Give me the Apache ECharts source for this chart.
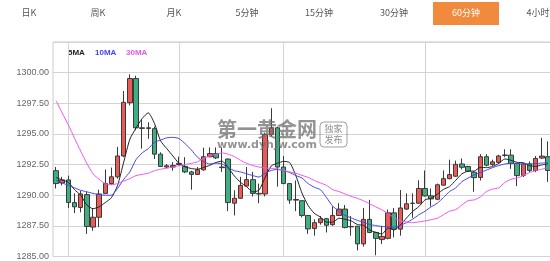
<!DOCTYPE html>
<html><head><meta charset="utf-8">
<script src="https://cdn.jsdelivr.net/npm/echarts@6/dist/echarts.min.js"></script>
<style>html,body{margin:0;padding:0;background:#fff;overflow:hidden}#c{width:551px;height:261px}</style>
</head><body><div id="c"></div>
<script>
const tabs = ['日K','周K','月K','5分钟','15分钟','30分钟','60分钟','4小时'];
const tabCenters = [29,98,174,247,319,394,466,538];
const activeTab = 6;
const legendNames = ['5MA','10MA','30MA'];
const yTicks = {min:1285, max:1302.5, step:2.5};
const dayBreaks = [2,20,37,60];

const opens = [1292.0,1291.0,1291.25,1289.4,1289.0,1290.05,1287.4,1288.2,1290.15,1290.95,
1291.5,1293.2,1297.55,1299.52,1295.5,1295.45,1295.43,1293.35,1292.3,1292.3,
1292.6,1292.35,1291.9,1291.7,1292.07,1293.14,1293.4,1292.3,1292.95,1289.35,
1289.75,1290.75,1291.27,1290.15,1290.1,1294.95,1295.5,1292.3,1290.95,1289.6,
1289.55,1288.35,1287.28,1287.76,1288.08,1287.6,1288.35,1288.87,1287.45,1287.47,
1286.03,1288.03,1286.96,1286.38,1286.48,1288.56,1287.23,1288.87,1289.35,1289.35,
1290.55,1289.95,1289.67,1290.82,1291.35,1291.55,1292.55,1292.34,1291.88,1291.45,
1293.14,1292.5,1292.68,1293.25,1293.27,1292.6,1291.62,1292.55,1292.02,1293.03,
1293.14];
const closes = [1290.95,1291.25,1289.4,1289.05,1290.1,1287.45,1288.2,1290.1,1290.95,1291.5,
1293.2,1297.58,1299.52,1295.5,1295.45,1295.5,1293.35,1292.35,1292.4,1292.42,
1292.5,1291.9,1291.7,1292.07,1293.14,1293.4,1293.05,1292.25,1289.4,1289.75,
1290.8,1291.27,1290.15,1290.1,1294.95,1295.5,1292.3,1290.95,1289.6,1289.65,
1288.35,1287.25,1287.76,1288.08,1287.55,1288.35,1288.87,1287.36,1287.42,1286.03,
1288.03,1286.96,1286.48,1286.64,1288.56,1287.23,1288.96,1289.3,1289.33,1290.55,
1289.94,1289.7,1290.85,1291.35,1291.68,1292.52,1292.28,1291.96,1291.43,1293.14,
1292.45,1292.72,1293.2,1293.28,1292.6,1291.6,1292.55,1292.02,1293.0,1293.19,
1292.02];
const lows = [1290.55,1290.8,1288.95,1288.55,1288.6,1286.85,1287.1,1287.4,1290.1,1290.85,
1291.35,1293.1,1297.33,1295.3,1293.8,1294.6,1292.95,1292.3,1292.2,1292.0,
1292.4,1291.8,1290.45,1291.65,1292.0,1293.1,1292.95,1291.9,1288.7,1288.35,
1289.7,1290.7,1289.9,1289.35,1289.9,1294.8,1290.7,1290.9,1289.3,1288.7,
1288.2,1286.85,1286.7,1287.6,1286.96,1287.5,1288.3,1287.3,1286.7,1285.5,
1285.8,1286.9,1285.1,1286.03,1286.4,1286.56,1286.7,1288.8,1288.16,1289.3,
1289.9,1289.09,1289.6,1290.8,1291.3,1291.5,1292.1,1291.9,1290.29,1291.2,
1292.35,1292.4,1292.6,1293.1,1292.15,1290.74,1291.48,1291.88,1291.88,1292.95,
1291.09];
const highs = [1292.3,1291.5,1291.6,1290.15,1290.35,1290.3,1288.95,1290.45,1292.1,1292.25,
1293.95,1298.5,1299.86,1299.75,1296.2,1295.95,1295.6,1293.5,1292.55,1292.7,
1293.15,1293.1,1292.0,1292.3,1293.88,1293.9,1293.9,1293.9,1293.0,1290.4,
1291.5,1292.3,1291.9,1290.95,1295.1,1297.1,1295.6,1293.2,1291.0,1291.2,
1289.6,1288.35,1288.03,1288.3,1288.15,1289.09,1289.35,1289.2,1288.3,1287.5,
1288.96,1289.62,1287.0,1287.5,1288.83,1288.96,1290.42,1290.15,1290.15,1291.22,
1292.02,1290.55,1290.95,1292.02,1292.9,1292.82,1293.0,1292.4,1291.95,1293.35,
1293.35,1292.9,1293.3,1293.75,1293.75,1292.6,1292.62,1292.76,1293.2,1294.68,
1294.4];
const ma5 = [1291.45,1291.25,1291.05,1290.45,1290.0,1289.2,1288.9,1289.05,1289.4,1289.8,
1290.79,1292.7,1294.57,1295.48,1296.26,1296.72,1295.86,1294.43,1293.81,1293.2,
1292.6,1292.31,1292.18,1292.12,1292.26,1292.44,1292.67,1292.78,1292.25,1291.57,
1291.05,1290.69,1290.27,1290.41,1291.45,1292.39,1292.6,1292.76,1292.66,1291.6,
1290.17,1289.16,1288.52,1288.22,1287.8,1287.8,1288.12,1288.04,1287.91,1287.61,
1287.54,1287.16,1286.98,1286.83,1287.33,1287.17,1287.57,1288.14,1288.68,1289.07,
1289.62,1289.76,1290.07,1290.48,1290.7,1291.22,1291.74,1291.96,1291.97,1292.27,
1292.25,1292.34,1292.59,1292.96,1292.85,1292.68,1292.65,1292.41,1292.35,1292.47,
1292.56];
const ma10 = [1291.22,1291.0,1290.8,1290.6,1290.4,1290.28,1290.15,1290.05,1290.0,1290.0,
1290.55,1291.3,1291.9,1292.9,1293.45,1293.8,1294.3,1294.5,1294.68,1294.72,
1294.62,1294.2,1293.7,1293.1,1292.75,1292.55,1292.62,1292.55,1292.25,1292.0,
1291.9,1291.75,1291.6,1291.48,1291.8,1292.02,1292.1,1292.0,1291.85,1291.6,
1291.4,1290.95,1290.65,1290.45,1289.8,1289.1,1288.7,1288.35,1288.15,1287.95,
1287.8,1287.62,1287.52,1287.45,1287.42,1287.4,1287.55,1287.76,1288.05,1288.4,
1288.69,1289.05,1289.35,1289.8,1290.3,1290.6,1291.1,1291.4,1291.65,1291.85,
1292.05,1292.25,1292.42,1292.55,1292.6,1292.58,1292.55,1292.55,1292.58,1292.62,
1292.65];
const ma30 = [1297.7,1296.7,1295.74,1294.65,1293.6,1292.6,1291.75,1291.3,1290.95,1290.85,
1290.95,1291.15,1291.35,1291.6,1291.7,1291.8,1292.0,1292.12,1292.2,1292.3,
1292.42,1292.5,1292.6,1292.72,1293.0,1293.2,1293.35,1293.45,1293.35,1293.15,
1292.85,1292.6,1292.42,1292.3,1292.22,1292.18,1292.15,1292.02,1291.9,1291.8,
1291.62,1291.45,1291.2,1291.0,1290.8,1290.45,1290.3,1290.1,1289.9,1289.75,
1289.55,1289.3,1289.05,1288.8,1288.5,1288.15,1287.9,1287.82,1287.76,1287.82,
1287.9,1288.0,1288.12,1288.4,1288.7,1288.82,1289.2,1289.55,1289.62,1289.85,
1290.3,1290.5,1290.6,1291.05,1291.3,1291.4,1291.6,1291.85,1292.0,1292.12,
1292.28];
const categories = opens.map((_, i) => 'K' + (i + 1));

const maColors = ['#222222', '#4444ee', '#ee55ee'];
const candleData = opens.map((o, i) => [o, closes[i], lows[i], highs[i]]);

const graphics = [];
tabs.forEach((t, i) => {
  if (i === activeTab) {
    graphics.push({type:'rect', shape:{x:433, y:2, width:66, height:23}, style:{fill:'#f08a3c'}});
  }
  graphics.push({type:'text', x:tabCenters[i], y:13, style:{text:t, fill: i===activeTab ? '#ffffff' : '#555555',
    font:'9px "Noto Sans CJK SC"', textAlign:'center', textVerticalAlign:'middle'}});
});
const legendX = [68, 95, 126];
legendNames.forEach((n, i) => {
  graphics.push({type:'text', x:legendX[i], y:53, style:{text:n, fill:maColors[i],
    font:'bold 8px "Liberation Sans"', textAlign:'left', textVerticalAlign:'middle'}});
});
// watermark
graphics.push({type:'text', x:267, y:129, z:100, style:{text:'第一黄金网', fill:'rgba(105,105,105,0.72)',
  font:'bold 20px "Noto Sans CJK SC"', textAlign:'center', textVerticalAlign:'middle'}});
graphics.push({type:'text', x:267, y:145, z:100, style:{text:'www.dyhjw.com', fill:'rgba(105,105,105,0.72)',
  font:'bold 11px "DejaVu Sans"', textAlign:'center', textVerticalAlign:'middle'}});
graphics.push({type:'rect', z:100, shape:{x:320, y:122, width:27, height:25, r:4}, style:{fill:'none', stroke:'rgba(120,120,120,0.7)', lineWidth:1}});
graphics.push({type:'text', x:333.5, y:129, z:100, style:{text:'独家', fill:'rgba(105,105,105,0.75)', font:'9px "Noto Sans CJK SC"', textAlign:'center', textVerticalAlign:'middle'}});
graphics.push({type:'text', x:333.5, y:140, z:100, style:{text:'发布', fill:'rgba(105,105,105,0.75)', font:'9px "Noto Sans CJK SC"', textAlign:'center', textVerticalAlign:'middle'}});

const chart = echarts.init(document.getElementById('c'), null, {renderer:'canvas'});
chart.setOption({
  animation:false,
  backgroundColor:'#ffffff',
  grid:{left:53, right:0, top:42, bottom:0, show:true, borderColor:'#cccccc', borderWidth:1},
  xAxis:{type:'category', data:categories, boundaryGap:true,
    axisLine:{show:false}, axisTick:{show:false}, axisLabel:{show:false}, splitLine:{show:false}},
  yAxis:{type:'value', min:yTicks.min, max:yTicks.max, interval:yTicks.step, scale:true,
    axisLine:{show:false}, axisTick:{show:false},
    axisLabel:{formatter:v => v.toFixed(2), color:'#666666', fontSize:9, fontFamily:'Liberation Sans', margin:4, showMaxLabel:false},
    splitLine:{lineStyle:{color:'#d3d3d3', width:1}}},
  series:[
    {type:'candlestick', data:candleData, barWidth:5,
      itemStyle:{color:'#eb5a55', color0:'#3daf80', borderColor:'#3a3a3a', borderColor0:'#3a3a3a', borderWidth:1},
      markLine:{silent:true, z:1, symbol:['none','none'], label:{show:false},
        lineStyle:{color:'#d3d3d3', type:'solid', width:1},
        data: dayBreaks.map(i => ({xAxis:i}))}},
    {type:'line', name:legendNames[0], data:ma5, showSymbol:false, smooth:0.2, lineStyle:{color:maColors[0], width:1}},
    {type:'line', name:legendNames[1], data:ma10, showSymbol:false, smooth:0.2, lineStyle:{color:maColors[1], width:1}},
    {type:'line', name:legendNames[2], data:ma30, showSymbol:false, smooth:0.2, lineStyle:{color:maColors[2], width:1}}
  ],
  graphic: graphics
});
</script></body></html>
